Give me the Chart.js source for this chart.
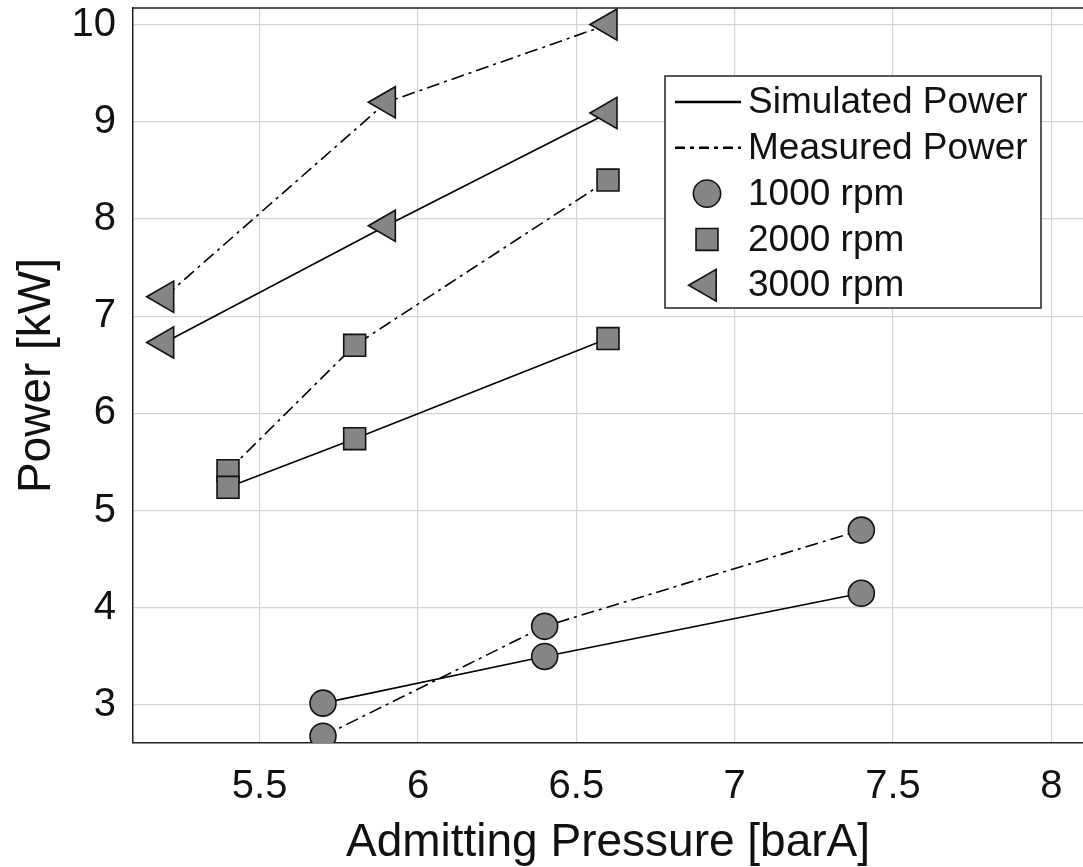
<!DOCTYPE html>
<html>
<head>
<meta charset="utf-8">
<script src="https://cdn.jsdelivr.net/npm/chart.js@4/dist/chart.umd.min.js"></script>
<style>
  body { margin: 0; background: #fff; }
  canvas { display: block; }
</style>
</head>
<body>
<canvas id="myChart" width="1083" height="867"></canvas>
<script>
// admitting pressure (barA) per speed
const pressure1000 = [5.7, 6.4, 7.4];
const pressure2000 = [5.4, 5.8, 6.6];
const pressure3000 = [5.2, 5.9, 6.6];

// power (kW)
const simulated1000 = [3.02, 3.50, 4.15];
const measured1000 = [2.68, 3.81, 4.80];
const simulated2000 = [5.24, 5.74, 6.77];
const measured2000 = [5.41, 6.70, 8.40];
const simulated3000 = [6.73, 7.93, 9.09];
const measured3000 = [7.20, 9.20, 10.0];

const legendLabels = ["Simulated Power", "Measured Power", "1000 rpm", "2000 rpm", "3000 rpm"];
const xTicks = [5.5, 6, 6.5, 7, 7.5, 8];
const yTicks = [3, 4, 5, 6, 7, 8, 9, 10];

const FONT = "'Liberation Sans', Arial, Helvetica, sans-serif";
const dashDot = [13, 5, 3, 5];
const markerFill = "#858585";

const toPoints = (xs, ys) => xs.map((x, i) => ({ x: x, y: ys[i] }));

const marker = {
  circle: { pointStyle: "circle", pointRadius: 13, pointRotation: 0 },
  rect: { pointStyle: "rect", pointRadius: 15.5, pointRotation: 0 },
  triangle: { pointStyle: "triangle", pointRadius: 18, pointRotation: -90 },
};

const makeSet = (label, xs, ys, style, dashed) => ({
  label: label,
  data: toPoints(xs, ys),
  borderColor: "#000",
  borderWidth: 1.6,
  borderDash: dashed ? dashDot : [],
  pointBackgroundColor: markerFill,
  pointBorderColor: "#111",
  pointBorderWidth: 1.6,
  pointHoverRadius: style.pointRadius,
  ...style,
  showLine: true,
  fill: false,
  tension: 0,
});

const datasets = [
  makeSet("1000 rpm simulated", pressure1000, simulated1000, marker.circle, false),
  makeSet("1000 rpm measured", pressure1000, measured1000, marker.circle, true),
  makeSet("2000 rpm simulated", pressure2000, simulated2000, marker.rect, false),
  makeSet("2000 rpm measured", pressure2000, measured2000, marker.rect, true),
  makeSet("3000 rpm simulated", pressure3000, simulated3000, marker.triangle, false),
  makeSet("3000 rpm measured", pressure3000, measured3000, marker.triangle, true),
];

// MATLAB style legend box inside the axes + top frame line
const boxLegend = {
  id: "boxLegend",
  afterDraw(chart) {
    const ctx = chart.ctx;
    const area = chart.chartArea;
    ctx.save();
    // top frame
    ctx.strokeStyle = "#222";
    ctx.lineWidth = 1.5;
    ctx.beginPath();
    ctx.moveTo(area.left, area.top);
    ctx.lineTo(area.right, area.top);
    ctx.stroke();

    const bx = area.left + 532, by = area.top + 68, bw = 376, bh = 232;
    ctx.fillStyle = "#fff";
    ctx.fillRect(bx, by, bw, bh);
    ctx.strokeStyle = "#222";
    ctx.lineWidth = 1.5;
    ctx.strokeRect(bx, by, bw, bh);

    ctx.font = "37px " + FONT;
    ctx.fillStyle = "#111";
    ctx.textBaseline = "middle";
    const rowH = 45.8;
    const styles = [null, null, marker.circle, marker.rect, marker.triangle];
    const legendScale = [0, 0, 1.05, 1.0, 1.02];
    legendLabels.forEach((label, i) => {
      const cy = by + 26 + i * rowH;
      if (i < 2) {
        ctx.strokeStyle = "#000";
        ctx.lineWidth = 2.6;
        ctx.setLineDash(i === 0 ? [] : [10, 5, 4, 5]);
        ctx.beginPath();
        ctx.moveTo(bx + 10, cy);
        ctx.lineTo(bx + 76, cy);
        ctx.stroke();
        ctx.setLineDash([]);
      } else {
        const st = styles[i];
        ctx.fillStyle = markerFill;
        ctx.strokeStyle = "#111";
        ctx.lineWidth = 1.6;
        const drawX = bx + 42;
        Chart.helpers.drawPoint(ctx, {
          pointStyle: st.pointStyle,
          radius: st.pointRadius * legendScale[i],
          rotation: st.pointRotation,
          borderWidth: 1.6,
        }, drawX, cy);
        ctx.fillStyle = "#111";
      }
      ctx.fillText(label, bx + 83, cy + 1);
    });
    ctx.restore();
  },
};

const ctx = document.getElementById("myChart").getContext("2d");
const myChart = new Chart(ctx, {
  type: "scatter",
  data: { datasets: datasets },
  options: {
    responsive: false,
    animation: false,
    events: [],
    layout: { autoPadding: false, padding: { top: 8, right: 0, left: 0, bottom: 0 } },
    plugins: {
      legend: { display: false },
      tooltip: { enabled: false },
    },
    scales: {
      x: {
        type: "linear",
        min: 5.1,
        max: 8.1,
        afterBuildTicks: (scale) => {
          scale.ticks = xTicks.map((v) => ({ value: v }));
        },
        afterFit: (scale) => {
          scale.height = 124;
          scale.paddingLeft = 0;
          scale.paddingRight = 0;
        },
        grid: { color: "#d4d4d4", lineWidth: 1.2, drawTicks: false },
        border: { color: "#222", width: 1.5 },
        ticks: {
          color: "#111",
          font: { family: FONT, size: 40 },
          padding: 20,
          maxRotation: 0,
          callback: (v) => String(v),
        },
        title: {
          display: true,
          text: "Admitting Pressure [barA]",
          color: "#111",
          font: { family: FONT, size: 46 },
          padding: { top: 0, bottom: -4 },
        },
      },
      y: {
        type: "linear",
        min: 2.61,
        max: 10.17,
        afterBuildTicks: (scale) => {
          scale.ticks = yTicks.map((v) => ({ value: v }));
        },
        afterFit: (scale) => {
          scale.width = 133;
          scale.paddingTop = 0;
          scale.paddingBottom = 0;
        },
        grid: { color: "#d4d4d4", lineWidth: 1.2, drawTicks: false },
        border: { color: "#222", width: 1.5 },
        ticks: {
          color: "#111",
          font: { family: FONT, size: 40 },
          padding: 17,
          callback: (v) => String(v),
        },
        title: {
          display: true,
          text: "Power [kW]",
          color: "#111",
          font: { family: FONT, size: 46 },
          padding: { top: 10, bottom: 0 },
        },
      },
    },
  },
  plugins: [boxLegend],
});
</script>
</body>
</html>
